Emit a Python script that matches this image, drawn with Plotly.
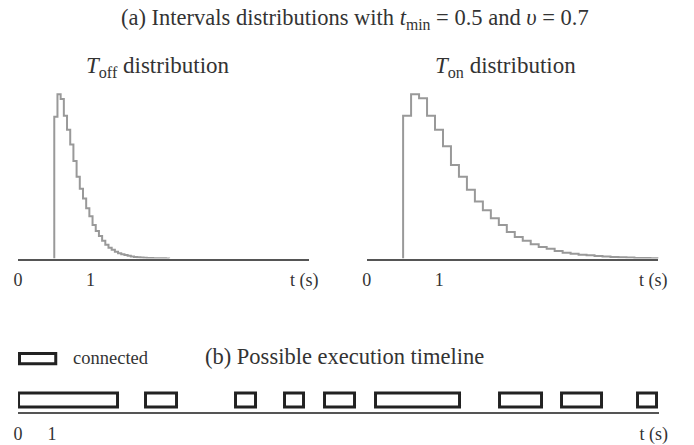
import plotly.graph_objects as go

W, H = 694, 445
FONT = "Liberation Serif"
TXT = "#333333"

# ---------------- data ----------------
# T_off histogram (heights, arbitrary units), bins start at t_min
toff_start = 0.5
toff_width = 0.044
toff_heights = [144, 167, 162, 145, 131, 116, 99, 83, 71, 61, 51, 43, 34, 28, 23, 18,
                14, 11, 9, 7, 5.5, 4.5, 3.5, 2.8, 2.2, 1.7, 1.3, 1.0, 0.8, 0.6, 0.5,
                0.4, 0.3, 0.2, 0.2, 0.1]

# T_on histogram
ton_start = 0.5
ton_width = 0.11
ton_heights = [145, 167, 163, 145, 131, 114, 95, 83, 70, 58, 49, 41, 34, 27, 22, 18,
               14.5, 11.7, 10, 7.7, 6, 5, 4, 3.3, 2.7, 2, 1.7, 1.3, 1, 0.7, 0.5, 0.3]

# connected intervals of the possible execution timeline (seconds)
conn_start = [0.04, 3.78, 6.43, 7.88, 9.05, 10.55, 14.22, 16.03, 18.29]
conn_end = [2.95, 4.69, 7.01, 8.44, 9.94, 13.04, 15.45, 17.23, 18.84]

dist_tickvals = [0, 1, 3.95]
dist_ticktext = ["0", "1", "t (s)"]
time_tickvals = [0, 1, 18.75]
time_ticktext = ["0", "1", "t (s)"]


def px_x(p):
    return p / W


def px_y(p):
    return 1 - p / H


def step_xy(start, width, heights):
    edges = [start + i * width for i in range(len(heights) + 1)]
    xs = [edges[0]] + edges[:-1] + [edges[-1]]
    ys = [0] + list(heights) + [0]
    return xs, ys


fig = go.Figure()

xs, ys = step_xy(toff_start, toff_width, toff_heights)
fig.add_trace(go.Scatter(x=xs, y=ys, mode="lines", line=dict(shape="hv", color="#999999", width=2),
                         xaxis="x", yaxis="y", hoverinfo="skip", showlegend=False))
xs, ys = step_xy(ton_start, ton_width, ton_heights)
fig.add_trace(go.Scatter(x=xs, y=ys, mode="lines", line=dict(shape="hv", color="#999999", width=2),
                         xaxis="x2", yaxis="y2", hoverinfo="skip", showlegend=False))

durations = [e - s for s, e in zip(conn_start, conn_end)]
fig.add_trace(go.Bar(orientation="h", base=conn_start, x=durations, y=[11.55] * len(conn_start),
                     width=14.7, marker=dict(color="white", line=dict(color="#222222", width=3)),
                     xaxis="x3", yaxis="y3", hoverinfo="skip", showlegend=False))

axis_common = dict(showgrid=False, zeroline=False, showline=True, linecolor="#555555", linewidth=2,
                   ticks="outside", ticklen=4, tickcolor="rgba(0,0,0,0)",
                   tickfont=dict(family=FONT, size=18, color=TXT), tickmode="array",
                   fixedrange=True)

fig.update_layout(
    width=W, height=H, autosize=False,
    margin=dict(l=0, r=0, t=0, b=0),
    paper_bgcolor="white", plot_bgcolor="white",
    bargap=0,
    xaxis=dict(domain=[px_x(13.3), px_x(310.7)], range=[0, 4.02], anchor="y",
               tickvals=dist_tickvals, ticktext=dist_ticktext, **axis_common),
    yaxis=dict(domain=[px_y(262.7), px_y(92.7)], range=[0, 170], visible=False, fixedrange=True),
    xaxis2=dict(domain=[px_x(369.3), px_x(666.8)], range=[0, 4.02], anchor="y2",
                tickvals=dist_tickvals, ticktext=dist_ticktext, **axis_common),
    yaxis2=dict(domain=[px_y(262.7), px_y(92.7)], range=[0, 170], visible=False, fixedrange=True,
                anchor="x2"),
    xaxis3=dict(domain=[px_x(13.3), px_x(667)], range=[0, 18.89], anchor="y3",
                tickvals=time_tickvals, ticktext=time_ticktext, **axis_common),
    yaxis3=dict(domain=[px_y(418.7), px_y(388.7)], range=[0, 30], visible=False, fixedrange=True,
                anchor="x3"),
)

annotations = [
    dict(text="(a) Intervals distributions with <i>t</i><sub>min</sub> = 0.5 and <i>υ</i> = 0.7",
         x=px_x(357), y=px_y(19), size=22.5),
    dict(text="<i>T</i><sub>off</sub> distribution", x=px_x(156), y=px_y(68), size=23),
    dict(text="<i>T</i><sub>on</sub> distribution", x=px_x(511), y=px_y(68), size=23),
    dict(text="(b) Possible execution timeline", x=px_x(346), y=px_y(362), size=22.5),
]
for a in annotations:
    fig.add_annotation(text=a["text"], x=a["x"], y=a["y"], xref="paper", yref="paper",
                       xanchor="center", yanchor="middle", showarrow=False,
                       font=dict(family=FONT, size=a["size"], color=TXT))

fig.add_annotation(text="connected", x=px_x(67), y=px_y(364), xref="paper", yref="paper",
                   xanchor="left", yanchor="middle", showarrow=False,
                   font=dict(family=FONT, size=18.5, color=TXT))

fig.add_shape(type="rect", xref="paper", yref="paper",
              x0=px_x(14.8), x1=px_x(51.8), y0=px_y(369.5), y1=px_y(359.2),
              line=dict(color="#222222", width=3), fillcolor="white")

fig.write_html("out.html", config={"displayModeBar": False},
               post_script="document.body.style.margin='0';document.body.style.padding='0';")
